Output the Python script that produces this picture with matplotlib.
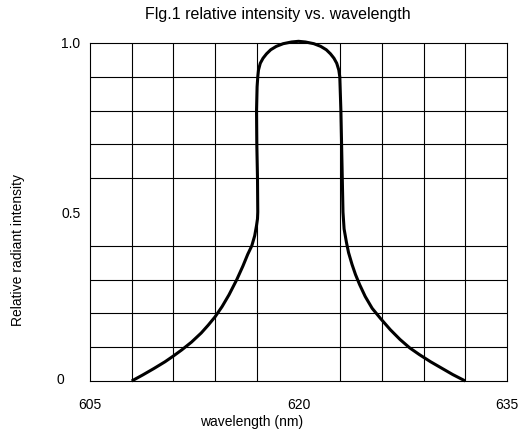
import matplotlib
matplotlib.use("Agg")
import matplotlib.pyplot as plt
import matplotlib.transforms as mtransforms
import numpy as np

# curve (wavelength nm, relative intensity)
wavelength = [608.0, 608.8, 609.6, 610.4, 611.0, 611.6, 612.3, 613.0, 613.5, 614.0,
              614.5, 615.0, 615.56, 616.0, 616.35, 616.64, 616.85, 616.98, 617.05, 617.07,
              617.05, 617.0, 616.98, 617.02, 617.07, 617.12, 617.25, 617.45, 617.7, 618.0,
              618.4, 618.9, 619.5, 620.0, 620.5, 621.1, 621.6, 622.0, 622.3, 622.55,
              622.75, 622.9, 622.97, 623.05, 623.1, 623.15, 623.2, 623.28, 623.45, 623.6,
              623.85, 624.1, 624.4, 624.8, 625.3, 625.9, 626.6, 627.3, 628.0, 628.7,
              629.5, 630.3, 631.1, 632.0]
intensity = [0.0, 0.018, 0.037, 0.057, 0.074, 0.092, 0.115, 0.142, 0.165, 0.19,
             0.22, 0.255, 0.30, 0.34, 0.375, 0.40, 0.43, 0.46, 0.48, 0.50,
             0.60, 0.70, 0.80, 0.87, 0.90, 0.92, 0.94, 0.955, 0.968, 0.98,
             0.99, 0.998, 1.003, 1.005, 1.003, 0.998, 0.99, 0.98, 0.968, 0.955,
             0.94, 0.92, 0.90, 0.80, 0.70, 0.60, 0.50, 0.45, 0.41, 0.38,
             0.345, 0.315, 0.285, 0.25, 0.215, 0.185, 0.152, 0.123, 0.098, 0.078,
             0.057, 0.038, 0.019, 0.0]

x_ticks = [605, 620, 635]
x_ticklabels = ['605', '620', '635']
y_ticks = [0, 0.5, 1.0]
y_ticklabels = ['0', '0.5', '1.0']

plt.rcParams['font.family'] = ['Liberation Sans', 'DejaVu Sans']

W, H = 519, 432
fig = plt.figure(figsize=(W / 100, H / 100), dpi=100)
ax = fig.add_axes([90 / W, 1 - 381 / H, 417 / W, 338 / H])

ax.plot(wavelength, intensity, color='black', linewidth=2.2, solid_joinstyle='round',
        solid_capstyle='butt', clip_on=False, zorder=3)

ax.set_xlim(605, 635)
ax.set_ylim(0, 1.0)
ax.set_xticks(np.arange(605, 636, 3), minor=True)
ax.set_yticks(np.arange(0, 1.01, 0.1), minor=True)
ax.set_xticks(x_ticks)
ax.set_xticklabels(x_ticklabels, fontsize=10)
ax.set_yticks(y_ticks)
ax.set_yticklabels(y_ticklabels, fontsize=10)
ax.grid(which='minor', color='black', linewidth=0.8)
ax.tick_params(which='both', length=0)
ax.tick_params(axis='x', pad=12)
ax.tick_params(axis='y', pad=7)
for s in ax.spines.values():
    s.set_linewidth(0.8)

# the "0" label sits further left than the others
lab0 = ax.get_yticklabels()[0]
lab0.set_transform(lab0.get_transform() + mtransforms.ScaledTranslation(-0.16, 0.03, fig.dpi_scale_trans))

fig.text(278 / W, 1 - 14 / H, 'Flg.1 relative intensity vs. wavelength', ha='center', va='center', fontsize=11.5)
fig.text(252 / W, 1 - 422 / H, 'wavelength (nm)', ha='center', va='center', fontsize=10)
fig.text(18 / W, 1 - 250 / H, 'Relative radiant intensity', ha='center', va='center',
         rotation=90, fontsize=10)

fig.savefig('out.png', dpi=100)
